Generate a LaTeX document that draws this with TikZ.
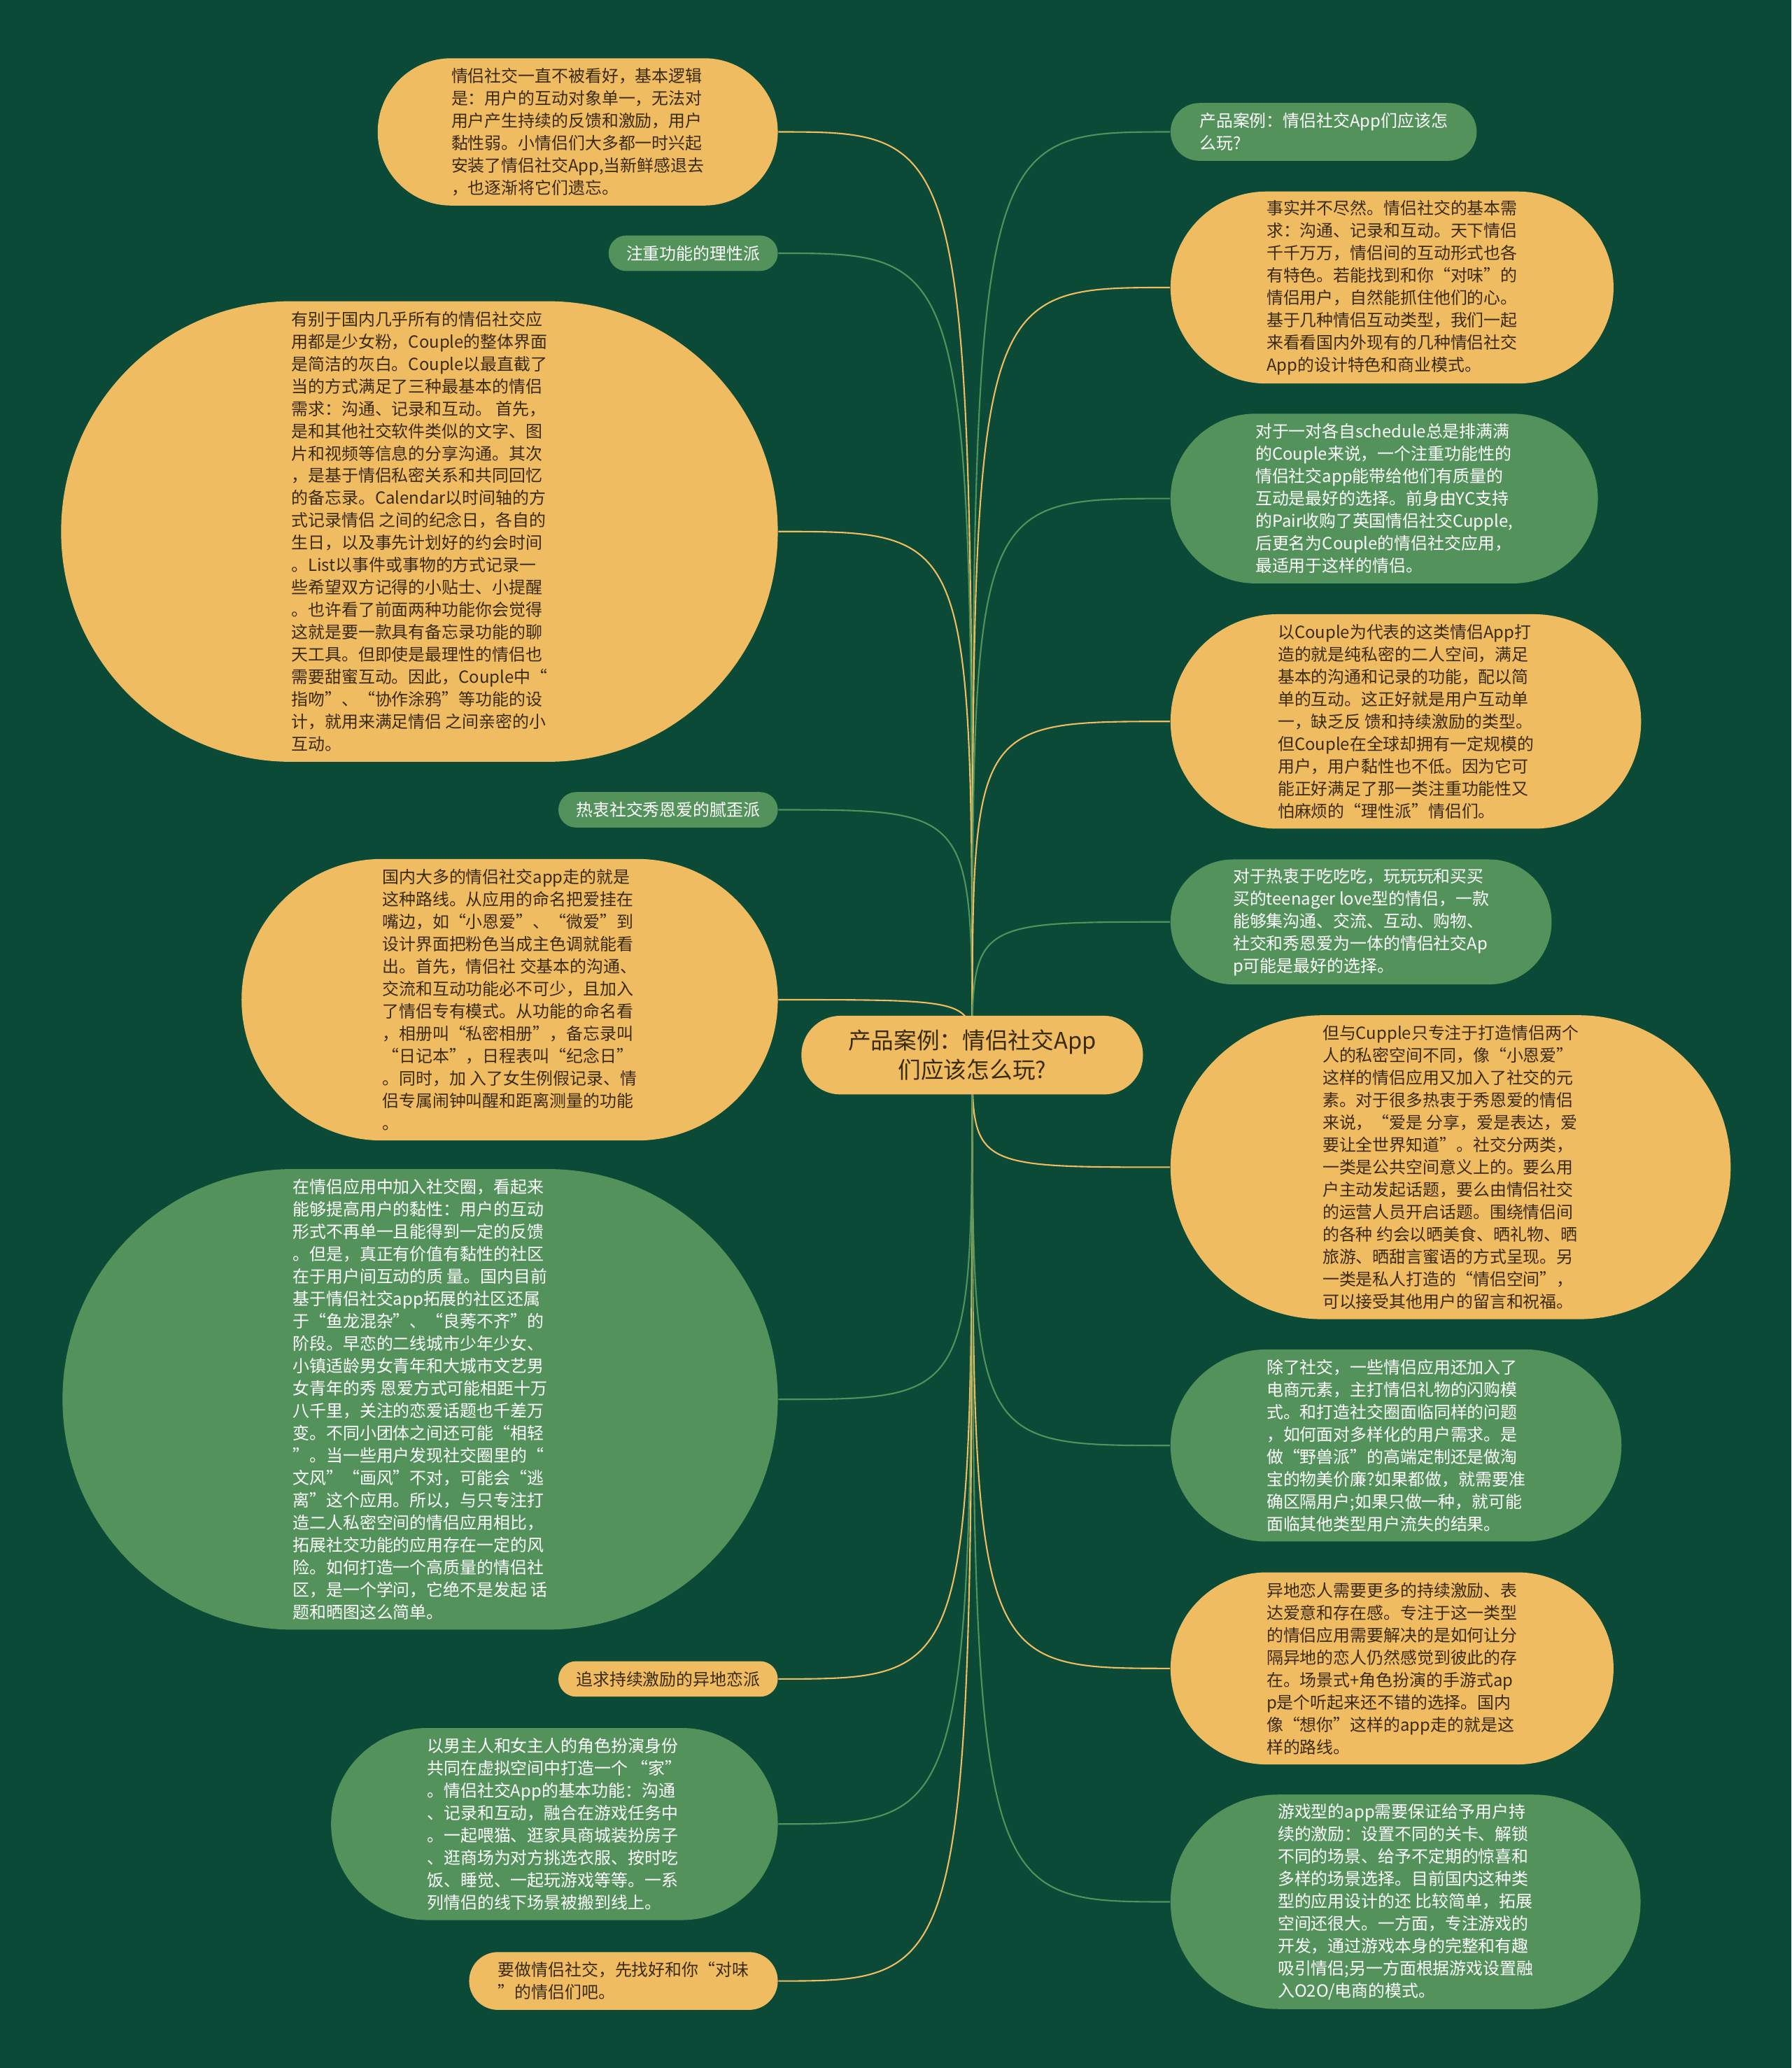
\documentclass[tikz,border=0pt]{standalone}
\usepackage{fontspec}
\setmainfont{Noto Sans CJK SC}
\usetikzlibrary{backgrounds}

\definecolor{bgGreen}{RGB}{11,74,55}
\definecolor{pillYellow}{RGB}{240,188,98}
\definecolor{pillGreen}{RGB}{84,146,92}
\definecolor{inkBrown}{RGB}{58,42,14}

\begin{document}
\begin{tikzpicture}[x=0.18851mm, y=-0.18851mm,
    % #1 = number of text lines
    pill/.style={rectangle, align=left, inner ysep=2pt,
                 minimum height=#1*9.1pt+5.3pt, inner xsep=#1*4.55pt+2.65pt,
                 rounded corners=#1*4.55pt+2.6pt,
                 font=\fontsize{6.8}{9.1}\selectfont},
    yellowpill/.style={pill=#1, fill=pillYellow, text=inkBrown},
    greenpill/.style={pill=#1, fill=pillGreen, text=white},
    ylink/.style={draw=pillYellow, line width=0.6pt},
    glink/.style={draw=pillGreen, line width=0.6pt}]

    % Root
    \node[rectangle, fill=pillYellow, text=inkBrown, align=center,
          minimum height=32pt, inner xsep=19pt, inner ysep=2pt, rounded corners=15.9pt,
          font=\fontsize{9.3}{11.8}\selectfont]
          (root) at (737,800) {产品案例：情侣社交App\\们应该怎么玩?};

    % Left branches
    \node[yellowpill=6, left] (l1) at (590,100) {情侣社交一直不被看好，基本逻辑\\是：用户的互动对象单一，无法对\\用户产生持续的反馈和激励，用户\\黏性弱。小情侣们大多都一时兴起\\安装了情侣社交App,当新鲜感退去\\，也逐渐将它们遗忘。};
    \node[greenpill=1, left] (l2) at (590,192) {注重功能的理性派};
    \node[yellowpill=20, left] (l3) at (590,403) {有别于国内几乎所有的情侣社交应\\用都是少女粉，Couple的整体界面\\是简洁的灰白。Couple以最直截了\\当的方式满足了三种最基本的情侣\\需求：沟通、记录和互动。 首先，\\是和其他社交软件类似的文字、图\\片和视频等信息的分享沟通。其次\\，是基于情侣私密关系和共同回忆\\的备忘录。Calendar以时间轴的方\\式记录情侣 之间的纪念日，各自的\\生日，以及事先计划好的约会时间\\。List以事件或事物的方式记录一\\些希望双方记得的小贴士、小提醒\\。也许看了前面两种功能你会觉得\\这就是要一款具有备忘录功能的聊\\天工具。但即使是最理性的情侣也\\需要甜蜜互动。因此，Couple中“\\指吻”、“协作涂鸦”等功能的设\\计，就用来满足情侣 之间亲密的小\\互动。};
    \node[greenpill=1, left] (l4) at (590,614) {热衷社交秀恩爱的腻歪派};
    \node[yellowpill=12, left] (l5) at (590,758) {国内大多的情侣社交app走的就是\\这种路线。从应用的命名把爱挂在\\嘴边，如“小恩爱”、“微爱”到\\设计界面把粉色当成主色调就能看\\出。首先，情侣社 交基本的沟通、\\交流和互动功能必不可少，且加入\\了情侣专有模式。从功能的命名看\\，相册叫“私密相册”，备忘录叫\\“日记本”，日程表叫“纪念日”\\。同时，加 入了女生例假记录、情\\侣专属闹钟叫醒和距离测量的功能\\。};
    \node[greenpill=20, left] (l6) at (590,1061) {在情侣应用中加入社交圈，看起来\\能够提高用户的黏性：用户的互动\\形式不再单一且能得到一定的反馈\\。但是，真正有价值有黏性的社区\\在于用户间互动的质 量。国内目前\\基于情侣社交app拓展的社区还属\\于“鱼龙混杂”、“良莠不齐”的\\阶段。早恋的二线城市少年少女、\\小镇适龄男女青年和大城市文艺男\\女青年的秀 恩爱方式可能相距十万\\八千里，关注的恋爱话题也千差万\\变。不同小团体之间还可能“相轻\\”。当一些用户发现社交圈里的“\\文风”“画风”不对，可能会“逃\\离”这个应用。所以，与只专注打\\造二人私密空间的情侣应用相比，\\拓展社交功能的应用存在一定的风\\险。如何打造一个高质量的情侣社\\区，是一个学问，它绝不是发起 话\\题和晒图这么简单。};
    \node[yellowpill=1, left] (l7) at (590,1273) {追求持续激励的异地恋派};
    \node[greenpill=8, left] (l8) at (590,1383) {以男主人和女主人的角色扮演身份\\共同在虚拟空间中打造一个 “家”\\。情侣社交App的基本功能：沟通\\、记录和互动，融合在游戏任务中\\。一起喂猫、逛家具商城装扮房子\\、逛商场为对方挑选衣服、按时吃\\饭、睡觉、一起玩游戏等等。一系\\列情侣的线下场景被搬到线上。};
    \node[yellowpill=2, left] (l9) at (590,1502) {要做情侣社交，先找好和你“对味\\”的情侣们吧。};

    % Right branches
    \node[greenpill=2, right] (r1) at (887,100) {产品案例：情侣社交App们应该怎\\么玩?};
    \node[yellowpill=8, right] (r2) at (887,218) {事实并不尽然。情侣社交的基本需\\求：沟通、记录和互动。天下情侣\\千千万万，情侣间的互动形式也各\\有特色。若能找到和你“对味”的\\情侣用户，自然能抓住他们的心。\\基于几种情侣互动类型，我们一起\\来看看国内外现有的几种情侣社交\\App的设计特色和商业模式。};
    \node[greenpill=7, right] (r3) at (887,378) {对于一对各自schedule总是排满满\\的Couple来说，一个注重功能性的\\情侣社交app能带给他们有质量的\\互动是最好的选择。前身由YC支持\\的Pair收购了英国情侣社交Cupple,\\后更名为Couple的情侣社交应用，\\最适用于这样的情侣。};
    \node[yellowpill=9, right] (r4) at (887,547) {以Couple为代表的这类情侣App打\\造的就是纯私密的二人空间，满足\\基本的沟通和记录的功能，配以简\\单的互动。这正好就是用户互动单\\一，缺乏反 馈和持续激励的类型。\\但Couple在全球却拥有一定规模的\\用户，用户黏性也不低。因为它可\\能正好满足了那一类注重功能性又\\怕麻烦的“理性派”情侣们。};
    \node[greenpill=5, right] (r5) at (887,699) {对于热衷于吃吃吃，玩玩玩和买买\\买的teenager love型的情侣，一款\\能够集沟通、交流、互动、购物、\\社交和秀恩爱为一体的情侣社交Ap\\p可能是最好的选择。};
    \node[yellowpill=13, right] (r6) at (887,885) {但与Cupple只专注于打造情侣两个\\人的私密空间不同，像“小恩爱”\\这样的情侣应用又加入了社交的元\\素。对于很多热衷于秀恩爱的情侣\\来说，“爱是 分享，爱是表达，爱\\要让全世界知道”。社交分两类，\\一类是公共空间意义上的。要么用\\户主动发起话题，要么由情侣社交\\的运营人员开启话题。围绕情侣间\\的各种 约会以晒美食、晒礼物、晒\\旅游、晒甜言蜜语的方式呈现。另\\一类是私人打造的“情侣空间”，\\可以接受其他用户的留言和祝福。};
    \node[greenpill=8, right] (r7) at (887,1096) {除了社交，一些情侣应用还加入了\\电商元素，主打情侣礼物的闪购模\\式。和打造社交圈面临同样的问题\\，如何面对多样化的用户需求。是\\做“野兽派”的高端定制还是做淘\\宝的物美价廉?如果都做，就需要准\\确区隔用户;如果只做一种，就可能\\面临其他类型用户流失的结果。};
    \node[yellowpill=8, right] (r8) at (887,1265) {异地恋人需要更多的持续激励、表\\达爱意和存在感。专注于这一类型\\的情侣应用需要解决的是如何让分\\隔异地的恋人仍然感觉到彼此的存\\在。场景式+角色扮演的手游式ap\\p是个听起来还不错的选择。国内\\像“想你”这样的app走的就是这\\样的路线。};
    \node[greenpill=9, right] (r9) at (887,1442) {游戏型的app需要保证给予用户持\\续的激励：设置不同的关卡、解锁\\不同的场景、给予不定期的惊喜和\\多样的场景选择。目前国内这种类\\型的应用设计的还 比较简单，拓展\\空间还很大。一方面，专注游戏的\\开发，通过游戏本身的完整和有趣\\吸引情侣;另一方面根据游戏设置融\\入O2O/电商的模式。};

    \begin{scope}[on background layer]
    % Background
    \fill[bgGreen] (0,0) rectangle (1358,1568);

    % Links
    \draw[ylink] (root.center) .. controls (root.center |- l1.east) .. (l1.east);
    \draw[glink] (root.center) .. controls (root.center |- l2.east) .. (l2.east);
    \draw[ylink] (root.center) .. controls (root.center |- l3.east) .. (l3.east);
    \draw[glink] (root.center) .. controls (root.center |- l4.east) .. (l4.east);
    \draw[ylink] (root.center) .. controls (root.center |- l5.east) .. (l5.east);
    \draw[glink] (root.center) .. controls (root.center |- l6.east) .. (l6.east);
    \draw[ylink] (root.center) .. controls (root.center |- l7.east) .. (l7.east);
    \draw[glink] (root.center) .. controls (root.center |- l8.east) .. (l8.east);
    \draw[ylink] (root.center) .. controls (root.center |- l9.east) .. (l9.east);
    \draw[glink] (root.center) .. controls (root.center |- r1.west) .. (r1.west);
    \draw[ylink] (root.center) .. controls (root.center |- r2.west) .. (r2.west);
    \draw[glink] (root.center) .. controls (root.center |- r3.west) .. (r3.west);
    \draw[ylink] (root.center) .. controls (root.center |- r4.west) .. (r4.west);
    \draw[glink] (root.center) .. controls (root.center |- r5.west) .. (r5.west);
    \draw[ylink] (root.center) .. controls (root.center |- r6.west) .. (r6.west);
    \draw[glink] (root.center) .. controls (root.center |- r7.west) .. (r7.west);
    \draw[ylink] (root.center) .. controls (root.center |- r8.west) .. (r8.west);
    \draw[glink] (root.center) .. controls (root.center |- r9.west) .. (r9.west);
    \end{scope}
\end{tikzpicture}
\end{document}
